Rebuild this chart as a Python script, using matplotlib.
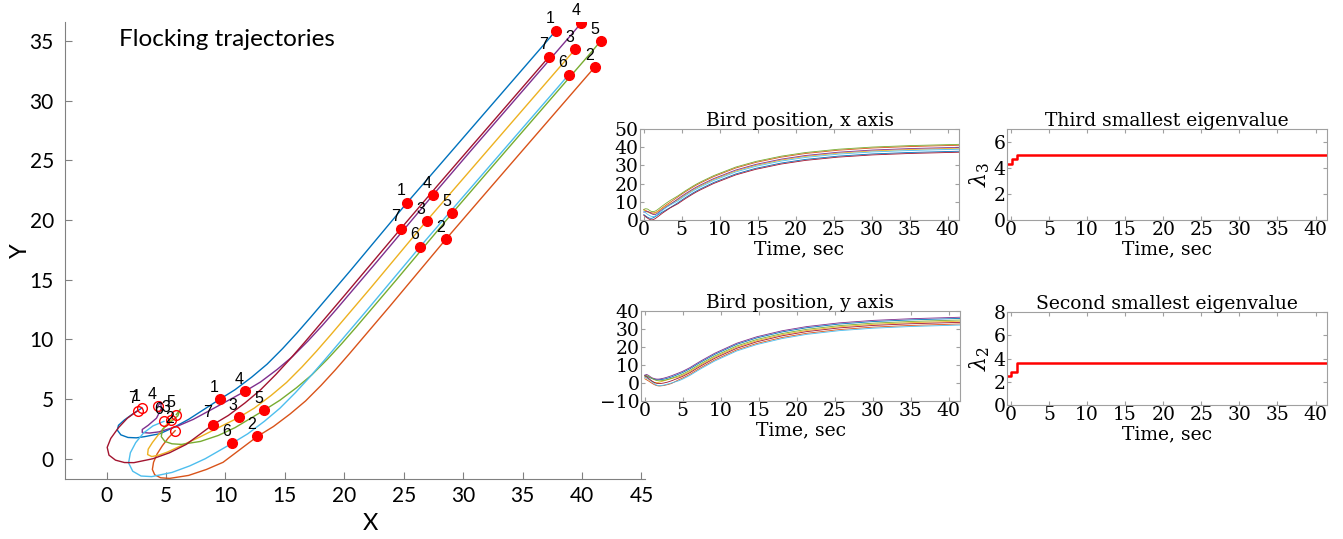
import numpy as np
import matplotlib
matplotlib.use('Agg')
import matplotlib.pyplot as plt

plt.rcParams['font.family'] = 'DejaVu Serif'
plt.rcParams['mathtext.fontset'] = 'dejavuserif'

# time samples of the simulation (sec)
t = [0, 0.25, 0.5, 0.75, 1, 1.25, 1.5, 1.75, 2, 2.5, 3, 3.5, 4.5,
     4.95, 5.45, 5.95, 6.45, 6.95, 7.5, 9.2, 12.1, 14.75, 18.1, 21.3, 25.6, 30.1, 35.0, 41.5]
marks = [0, 12, 20, 27]  # samples that get a numbered dot

x1 = [2.97, 2.2, 1.5, 1.0, 0.9, 1.2, 1.8, 2.5, 3.2, 4.5, 5.7, 6.9, 9.5,
      10.8, 12.2, 13.5, 14.8, 16.0, 17.2, 20.6, 25.29, 28.4, 31.3, 33.3, 35.1, 36.3, 37.1, 37.79]
y1 = [4.25, 3.75, 3.25, 2.8, 2.4, 2.0, 1.78, 1.75, 1.85, 2.1, 2.65, 3.3, 4.97,
      5.78, 6.83, 7.92, 9.22, 10.52, 11.89, 15.87, 21.47, 25.05, 28.39, 30.69, 32.76, 34.14, 35.06, 35.87]
x2 = [5.77, 5.2, 4.7, 4.25, 3.95, 3.85, 4.05, 4.55, 5.3, 6.9, 8.4, 9.8, 12.69,
      14.04, 15.44, 16.74, 18.04, 19.24, 20.44, 23.84, 28.55, 31.64, 34.54, 36.54, 38.34, 39.54, 40.34, 41.07]
y2 = [2.35, 1.75, 1.1, 0.4, -0.3, -0.9, -1.35, -1.6, -1.65, -1.4, -0.9, -0.3, 1.87,
      2.7, 3.75, 4.84, 6.14, 7.44, 8.81, 12.79, 18.40, 21.97, 25.31, 27.61, 29.68, 31.06, 31.98, 32.81]
x3 = [5.44, 4.9, 4.35, 3.85, 3.5, 3.45, 3.8, 4.4, 5.1, 6.5, 7.8, 9.0, 11.13,
      12.44, 13.84, 15.14, 16.44, 17.64, 18.84, 22.24, 26.92, 30.04, 32.94, 34.94, 36.74, 37.94, 38.74, 39.45]
y3 = [3.27, 2.7, 2.0, 1.35, 0.8, 0.35, 0.18, 0.3, 0.55, 1.2, 1.8, 2.4, 3.46,
      4.25, 5.3, 6.39, 7.69, 8.99, 10.36, 14.34, 19.93, 23.52, 26.86, 29.16, 31.23, 32.61, 33.53, 34.34]
x4 = [4.29, 4.55, 4.6, 4.2, 3.5, 3.0, 3.0, 3.6, 4.4, 5.9, 7.3, 8.6, 11.63,
      12.95, 14.35, 15.65, 16.95, 18.15, 19.35, 22.75, 27.45, 30.55, 33.45, 35.45, 37.25, 38.45, 39.25, 39.95]
y4 = [4.38, 4.75, 4.2, 3.4, 2.8, 2.45, 2.2, 2.15, 2.25, 2.7, 3.3, 4.0, 5.64,
      6.43, 7.48, 8.57, 9.87, 11.17, 12.54, 16.52, 22.09, 25.7, 29.04, 31.34, 33.41, 34.79, 35.71, 36.54]
x5 = [5.86, 6.2, 6.0, 5.3, 4.7, 4.6, 4.9, 5.5, 6.3, 7.9, 9.4, 10.8, 13.28,
      14.58, 15.98, 17.28, 18.58, 19.78, 20.98, 24.38, 29.08, 32.18, 35.08, 37.08, 38.88, 40.08, 40.88, 41.57]
y5 = [3.69, 4.15, 3.6, 3.0, 2.45, 1.85, 1.45, 1.25, 1.2, 1.45, 1.95, 2.6, 4.08,
      4.9, 5.95, 7.04, 8.34, 9.64, 11.01, 14.99, 20.58, 24.17, 27.51, 29.81, 31.88, 33.26, 34.18, 35.01]
x6 = [4.82, 3.9, 3.1, 2.45, 2.0, 1.85, 2.2, 2.9, 3.8, 5.5, 7.0, 8.3, 10.54,
      11.88, 13.28, 14.58, 15.88, 17.08, 18.28, 21.68, 26.39, 29.48, 32.38, 34.38, 36.18, 37.38, 38.18, 38.88]
y6 = [3.13, 2.75, 2.15, 1.35, 0.5, -0.35, -1.05, -1.45, -1.5, -1.15, -0.6, 0.0, 1.28,
      2.09, 3.14, 4.23, 5.53, 6.83, 8.2, 12.18, 17.78, 21.36, 24.7, 27.0, 29.07, 30.45, 31.37, 32.19]
x7 = [2.61, 1.75, 1.0, 0.35, 0.05, 0.2, 0.75, 1.5, 2.3, 3.9, 5.3, 6.7, 8.94,
      10.25, 11.65, 12.95, 14.25, 15.45, 16.65, 20.05, 24.76, 27.85, 30.75, 32.75, 34.55, 35.75, 36.55, 37.23]
y7 = [4.02, 3.4, 2.6, 1.7, 0.95, 0.3, -0.12, -0.32, -0.33, 0.0, 0.5, 1.2, 2.85,
      3.63, 4.68, 5.77, 7.07, 8.37, 9.74, 13.72, 19.29, 22.9, 26.24, 28.54, 30.61, 31.99, 32.91, 33.69]

# eigenvalues of the graph laplacian (piecewise constant)
eig_t = [-0.5, 0.1, 0.75, 41.5]
lam3 = [4.3, 4.7, 5.0, 5.0]
eig2_t = [-0.5, 0.0, 0.75, 41.5]
lam2 = [2.5, 2.8, 3.6, 3.6]

xs = [x1, x2, x3, x4, x5, x6, x7]
ys = [y1, y2, y3, y4, y5, y6, y7]
cols = ['#0072BD', '#D95319', '#EDB120', '#7E2F8E', '#77AC30', '#4DBEEE', '#A2142F']

fig = plt.figure(figsize=(13.43, 5.39), dpi=100)

# ---- trajectories
ax = fig.add_axes([65/1343., 60/539., 580/1343., 457/539.])
for i in range(7):
    ax.plot(xs[i], ys[i], color=cols[i], lw=1.0)
for i in range(7):
    for k in marks:
        if k == 0:
            ax.plot(xs[i][k], ys[i][k], 'o', mfc='none', mec='red', ms=7, mew=1.0)
        else:
            ax.plot(xs[i][k], ys[i][k], 'o', color='red', ms=7)
        ax.annotate(str(i+1), (xs[i][k], ys[i][k]), xytext=(-4, 8.5), textcoords='offset points',
                    ha='center', va='center', fontsize=11.5, family='Liberation Sans')
ax.set_xlim(-3.5, 45.3)
ax.set_ylim(-1.7, 36.6)
ax.set_xticks(range(0, 50, 5))
ax.set_yticks(range(0, 40, 5))
for s in ['top', 'right']:
    ax.spines[s].set_visible(False)
for s in ['left', 'bottom']:
    ax.spines[s].set_color('#808080')
ax.tick_params(direction='in', length=5, color='#808080', labelsize=15)
ax.tick_params(axis='x', pad=5)
ax.tick_params(axis='y', pad=8)
for lab in ax.get_xticklabels() + ax.get_yticklabels():
    lab.set_family('Lato')
ax.set_xlabel('X', family='Lato', fontsize=17)
ax.xaxis.set_label_coords(0.526, -0.075)
ax.set_ylabel('Y', family='Lato', fontsize=17, labelpad=-1)
ax.text(1.07, 35.1, 'Flocking trajectories', family='Lato', fontsize=17.5, va='center')


def small(ax):
    for s in ax.spines.values():
        s.set_color('#a0a0a0')
        s.set_linewidth(0.8)
    ax.tick_params(direction='in', length=3, top=True, right=True, color='#a0a0a0',
                   labelsize=13.5, pad=1)
    ax.set_xlim(-0.5, 41.5)
    ax.set_xticks(range(0, 45, 5))
    ax.set_xlabel('Time, sec', fontsize=13.5, labelpad=1)


w = 319/1343.
axx = fig.add_axes([640/1343., 319/539., w, 91/539.])
for i in range(7):
    axx.plot(t, xs[i], color=cols[i], lw=0.6)
axx.set_ylim(0, 50)
axx.set_yticks(range(0, 60, 10))
small(axx)
axx.set_title('Bird position, x axis', fontsize=13.5, pad=2)

axy = fig.add_axes([641/1343., 138/539., w, 90/539.])
for i in range(7):
    axy.plot(t, ys[i], color=cols[i], lw=0.6)
axy.set_ylim(-10, 40)
axy.set_yticks(range(-10, 50, 10))
small(axy)
axy.set_title('Bird position, y axis', fontsize=13.5, pad=2)

ax3 = fig.add_axes([1007/1343., 319/539., 320/1343., 91/539.])
ax3.step(eig_t, lam3, where='post', color='red', lw=1.8)
ax3.set_ylim(0, 7)
ax3.set_yticks([0, 2, 4, 6])
small(ax3)
ax3.set_title('Third smallest eigenvalue', fontsize=13.5, pad=2)
ax3.set_ylabel(r'$\lambda_3$', fontsize=16, labelpad=1)

ax2 = fig.add_axes([1007/1343., 134/539., 320/1343., 93/539.])
ax2.step(eig2_t, lam2, where='post', color='red', lw=1.8)
ax2.set_ylim(0, 8)
ax2.set_yticks([0, 2, 4, 6, 8])
small(ax2)
ax2.set_title('Second smallest eigenvalue', fontsize=13.5, pad=2)
ax2.set_ylabel(r'$\lambda_2$', fontsize=16, labelpad=1)

plt.savefig('out.png', dpi=100)
